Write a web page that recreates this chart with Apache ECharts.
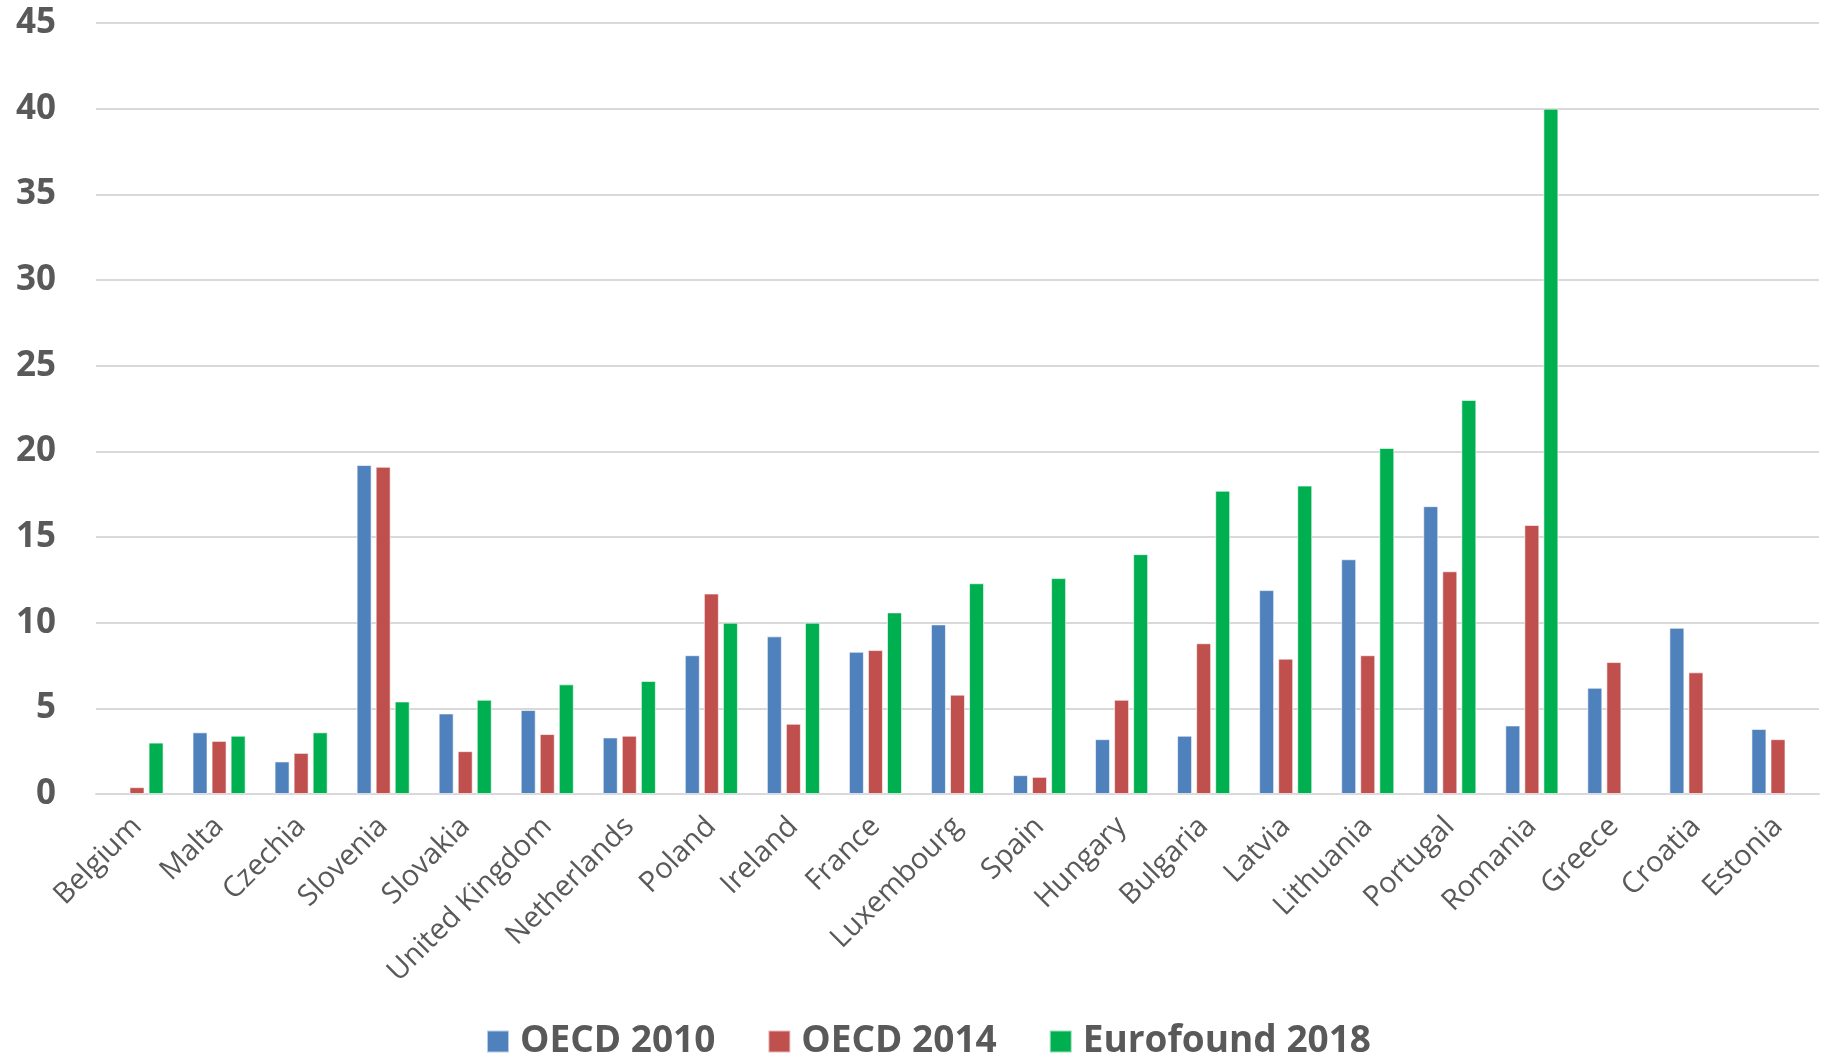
<!DOCTYPE html>
<html>
<head>
<meta charset="utf-8">
<style>
  html, body { margin: 0; padding: 0; background: #ffffff; }
  #chart { width: 1825px; height: 1056px; }
</style>
<script src="https://cdn.jsdelivr.net/npm/echarts@6/dist/echarts.min.js"></script>
</head>
<body>
<div id="chart"></div>
<script>
// Countries, in the order shown along the horizontal axis
const countries = [
  'Belgium', 'Malta', 'Czechia', 'Slovenia', 'Slovakia', 'United Kingdom',
  'Netherlands', 'Poland', 'Ireland', 'France', 'Luxembourg', 'Spain',
  'Hungary', 'Bulgaria', 'Latvia', 'Lithuania', 'Portugal', 'Romania',
  'Greece', 'Croatia', 'Estonia'
];

// Series values (null = no figure for that country)
const oecd2010 = [null, 3.6, 1.9, 19.2, 4.7, 4.9, 3.3, 8.1, 9.2, 8.3, 9.9, 1.1, 3.2, 3.4, 11.9, 13.7, 16.8, 4.0, 6.2, 9.7, 3.8];
const oecd2014 = [0.4, 3.1, 2.4, 19.1, 2.5, 3.5, 3.4, 11.7, 4.1, 8.4, 5.8, 1.0, 5.5, 8.8, 7.9, 8.1, 13.0, 15.7, 7.7, 7.1, 3.2];
const eurofound2018 = [3.0, 3.4, 3.6, 5.4, 5.5, 6.4, 6.6, 10.0, 10.0, 10.6, 12.3, 12.6, 14.0, 17.7, 18.0, 20.2, 23.0, 40.0, null, null, null];

const seriesNames = ['OECD 2010', 'OECD 2014', 'Eurofound 2018'];
const seriesColors = ['#4F81BD', '#C0504D', '#00B050'];
const seriesData = [oecd2010, oecd2014, eurofound2018];

// Value axis range
const yMin = 0, yMax = 45, yStep = 5;

const textColor = '#595959';
const gridColor = '#D9D9D9';
const fontFamily = '"Open Sans", "Noto Sans", sans-serif';

const chart = echarts.init(document.getElementById('chart'), null, { renderer: 'canvas' });

chart.setOption({
  animation: false,
  backgroundColor: '#ffffff',
  textStyle: { fontFamily: fontFamily },
  grid: { left: 96, right: 6, top: 23, bottom: 262, containLabel: false },
  legend: {
    data: seriesNames,
    top: 1018,
    left: 481,
    itemWidth: 22,
    itemHeight: 22,
    itemGap: 52,
    icon: 'rect',
    textStyle: { color: textColor, fontSize: 37, fontWeight: 'bold', fontFamily: fontFamily, padding: [0, 0, 0, 6] }
  },
  xAxis: {
    type: 'category',
    data: countries,
    axisLine: { show: true, lineStyle: { color: gridColor, width: 2 } },
    axisTick: { show: false },
    axisLabel: {
      rotate: 45,
      interval: 0,
      margin: 28,
      color: textColor,
      fontSize: 29,
      fontFamily: fontFamily
    }
  },
  yAxis: {
    type: 'value',
    min: yMin,
    max: yMax,
    interval: yStep,
    axisLine: { show: false },
    axisTick: { show: false },
    splitLine: { show: true, lineStyle: { color: gridColor, width: 2 } },
    axisLabel: {
      margin: 40,
      color: textColor,
      fontSize: 35,
      fontWeight: 'bold',
      fontFamily: fontFamily
    }
  },
  series: seriesNames.map((name, i) => ({
    name: name,
    type: 'bar',
    data: seriesData[i],
    barWidth: 15,
    barGap: '27%',
    itemStyle: {
      color: seriesColors[i],
      borderColor: 'rgba(255,255,255,0.6)',
      borderWidth: 1
    }
  }))
});
</script>
</body>
</html>
